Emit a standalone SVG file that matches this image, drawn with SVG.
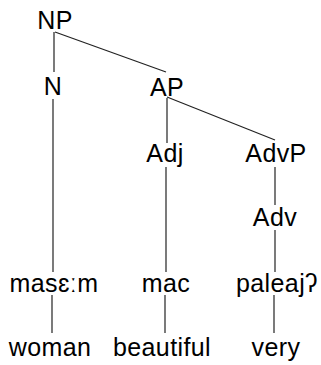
<svg xmlns="http://www.w3.org/2000/svg" width="321" height="365" viewBox="0 0 321 365">
<style>
text{font-family:"Liberation Sans",Arial,sans-serif;font-size:25px;fill:#000;text-anchor:middle;letter-spacing:0.4px}
line{stroke:#222;stroke-width:1.2}
</style>
<rect width="321" height="365" fill="#fff"/>
<g id="connectors">
<line x1="54" y1="32" x2="54" y2="72"/>
<line x1="55" y1="32" x2="166" y2="72"/>
<line x1="53" y1="99" x2="53" y2="272"/>
<line x1="167" y1="98" x2="167" y2="143"/>
<line x1="167" y1="97" x2="275" y2="140"/>
<line x1="166" y1="167" x2="166" y2="272"/>
<line x1="275" y1="167" x2="275" y2="205"/>
<line x1="275" y1="230" x2="275" y2="272"/>
<line x1="52" y1="295" x2="52" y2="333"/>
<line x1="165" y1="295" x2="165" y2="333"/>
<line x1="274" y1="295" x2="274" y2="333"/>
</g>
<g id="NP"><text x="55" y="29">NP</text></g>
<g id="N"><text x="53" y="95">N</text></g>
<g id="AP"><text x="167" y="96">AP</text></g>
<g id="Adj"><text x="165" y="162">Adj</text></g>
<g id="AdvP"><text x="276" y="162">AdvP</text></g>
<g id="Adv"><text x="275" y="226">Adv</text></g>
<g id="masem"><text x="54" y="292">masɛːm</text></g>
<g id="mac"><text x="166" y="292">mac</text></g>
<g id="paleaj"><text x="277" y="292">paleajʔ</text></g>
<g id="woman"><text x="50" y="356">woman</text></g>
<g id="beautiful"><text x="162" y="356">beautiful</text></g>
<g id="very"><text x="276" y="356">very</text></g>
</svg>
